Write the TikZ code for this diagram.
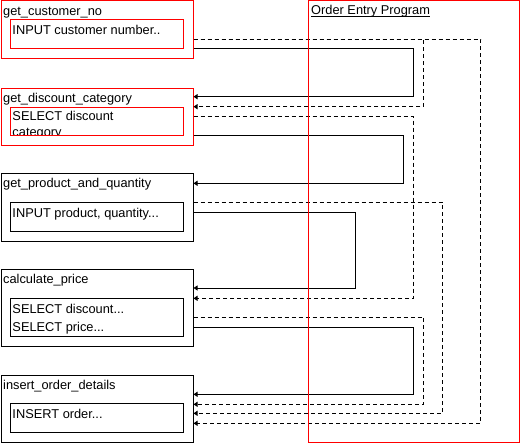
\documentclass[tikz,border=0pt]{standalone}
\usepackage{fontspec}
\setmainfont{Liberation Sans}
\usetikzlibrary{arrows.meta,calc}
\begin{document}
\begin{tikzpicture}[x=1pt,y=-1pt,
  box/.style={draw, line width=1pt, inner sep=0pt, outer sep=0pt, anchor=north west},
  redbox/.style={box, draw=red},
  lbl/.style={inner sep=0pt, anchor=base west, font=\fontsize{12.8}{15}\selectfont},
  conn/.style={line width=1pt, -{Triangle[length=4pt,width=5pt]}},
  dconn/.style={conn, dash pattern=on 4pt off 3pt}]
\useasboundingbox (0,0) rectangle (522,445);
% outer boxes
\node[redbox, minimum width=192pt, minimum height=58pt] (b1) at (1.5,0.5) {};
\node[redbox, minimum width=192pt, minimum height=57pt] (b2) at (1.5,88.5) {};
\node[box, minimum width=192pt, minimum height=67.7pt] (b3) at (1.5,173.3) {};
\node[box, minimum width=192pt, minimum height=76.7pt] (b4) at (1.5,269.3) {};
\node[box, minimum width=192pt, minimum height=66.8pt] (b5) at (1.5,375.5) {};
% inner boxes
\node[redbox, minimum width=173pt, minimum height=28.5pt] (i1) at (10.5,19.5) {};
\node[redbox, minimum width=173pt, minimum height=28pt] (i2) at (10.5,107) {};
\node[box, minimum width=173pt, minimum height=28.7pt] (i3) at (10.5,202.3) {};
\node[box, minimum width=173pt, minimum height=37.7pt] (i4) at (10.5,298.3) {};
\node[box, minimum width=173pt, minimum height=29pt] (i5) at (10.5,403.3) {};
% titles
\node[lbl] (t1) at (3,15) {get\_customer\_no};
\node[lbl] (t2) at (3,102.3) {get\_discount\_category};
\node[lbl] (t3) at (3,187.7) {get\_product\_and\_quantity};
\node[lbl] (t4) at (3,283.5) {calculate\_price};
\node[lbl] (t5) at (3,389.8) {insert\_order\_details};
% inner texts
\node[lbl] (s1) at (12.3,34.3) {INPUT customer number..};
\begin{scope}
  \clip (i2.north west) rectangle ($(i2.south east)+(0,-0.5)$);
  \node[lbl] (s2a) at (12.3,120) {SELECT discount};
  \node[lbl] (s2b) at (12.3,136) {category};
\end{scope}
\node[lbl] (s3) at (12.3,217.3) {INPUT product, quantity...};
\node[lbl] (s4a) at (12.3,313.3) {SELECT discount...};
\node[lbl] (s4b) at (12.3,331.7) {SELECT price...};
\node[lbl] (s5) at (12.3,418.7) {INSERT order...};
% connectors
\draw[conn] (b1.east |- 0,48.3) -| (413.3,96.7) -- (b2.east |- 0,96.7);
\draw[dconn] (b1.east |- 0,39.3) -| (423.7,106.7) -- (b2.east |- 0,106.7);
\draw[dconn] (b1.east |- 0,39.3) -| (480.7,423.3) -- (b5.east |- 0,423.3);
\draw[dconn] (b2.east |- 0,116.3) -| (413.3,298.3) -- (b4.east |- 0,298.3);
\draw[conn] (b2.east |- 0,135.3) -| (403,183.3) -- (b3.east |- 0,183.3);
\draw[dconn] (b3.east |- 0,202.3) -| (442.7,413.3) -- (b5.east |- 0,413.3);
\draw[conn] (b3.east |- 0,212.3) -| (355.3,288) -- (b4.east |- 0,288);
\draw[dconn] (b4.east |- 0,317.3) -| (423.7,404.3) -- (b5.east |- 0,404.3);
\draw[conn] (b4.east |- 0,327.3) -| (413.3,394.3) -- (b5.east |- 0,394.3);
% program box
\node[redbox, minimum width=211pt, minimum height=442pt] (oep) at (308.5,0.5) {};
\node[lbl] (title) at (311,14.3) {Order Entry Program};
\draw[line width=1pt] ($(title.base west)+(0,2)$) -- ($(title.base east)+(0,2)$);
\end{tikzpicture}
\end{document}
